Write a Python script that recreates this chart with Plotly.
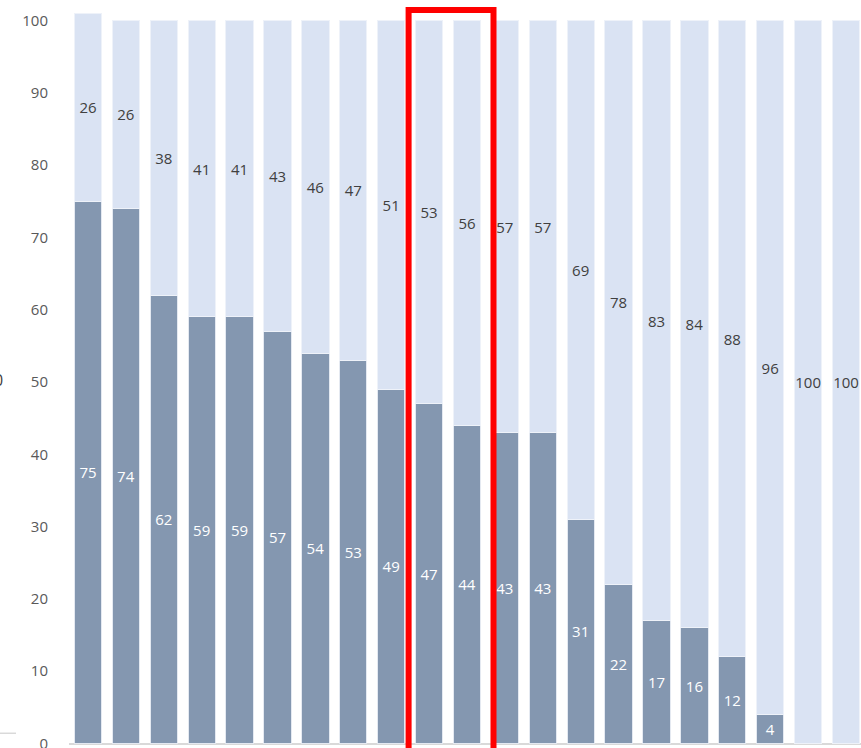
import plotly.graph_objects as go

# Share of each group (percent), lower and upper segment of each stacked bar
categories = list(range(21))
lower_share = [75, 74, 62, 59, 59, 57, 54, 53, 49, 47, 44, 43, 43, 31, 22, 17, 16, 12, 4, 0, 0]
upper_share = [26, 26, 38, 41, 41, 43, 46, 47, 51, 53, 56, 57, 57, 69, 78, 83, 84, 88, 96, 100, 100]
y_ticks = [0, 10, 20, 30, 40, 50, 60, 70, 80, 90, 100]

DARK = "#8497B0"
LIGHT = "#DAE3F3"
FONT = "Open Sans"

fig = go.Figure()
fig.add_trace(go.Bar(
    x=categories, y=lower_share,
    marker=dict(color=DARK, line=dict(color="#e4e9f1", width=1)),
    text=[str(v) if v > 0 else "" for v in lower_share],
    textposition="inside", insidetextanchor="middle", textangle=0,
    constraintext="none",
    textfont=dict(family=FONT, size=15, color="white"),
    hoverinfo="skip",
))
fig.add_trace(go.Bar(
    x=categories, y=upper_share,
    marker=dict(color=LIGHT, line=dict(color="#eef2f9", width=1)),
    text=[str(v) for v in upper_share],
    textposition="inside", insidetextanchor="middle", textangle=0,
    constraintext="none",
    textfont=dict(family=FONT, size=15, color="#404040"),
    hoverinfo="skip",
))

# Highlight frame around the two middle groups
fig.add_shape(type="rect", xref="x", yref="y",
              x0=8.46, x1=10.70, y0=-3, y1=101.45,
              line=dict(color="#FF0000", width=6), fillcolor="rgba(0,0,0,0)")

# Fragments of neighbouring elements at the left border
fig.add_shape(type="line", xref="paper", yref="paper",
              x0=-0.0871, x1=-0.0669, y0=0.0198, y1=0.0198,
              line=dict(color="#d9d9d9", width=1.5))
fig.add_annotation(xref="paper", yref="paper", x=-0.0884, y=0.495,
                   text="0", showarrow=False, xanchor="center", yanchor="middle",
                   font=dict(family=FONT, size=16, color="#404040"))

fig.update_layout(
    barmode="stack",
    bargap=0.28,
    width=861, height=748,
    margin=dict(l=69, r=0, t=4, b=0),
    paper_bgcolor="white", plot_bgcolor="white",
    showlegend=False,
    font=dict(family=FONT),
    xaxis=dict(range=[-0.5, 20.396], showticklabels=False, showgrid=False,
               zeroline=False, showline=False, ticks="", automargin=False),
    yaxis=dict(range=[-0.622, 102.28], tickvals=y_ticks,
               tickfont=dict(family=FONT, size=15, color="#595959"),
               showgrid=False, zeroline=True, zerolinecolor="#d9d9d9",
               zerolinewidth=2, showline=False, ticks="", ticklabelstandoff=20,
               ticklabeloverflow="allow", automargin=False),
)

fig.write_html("out.html")
